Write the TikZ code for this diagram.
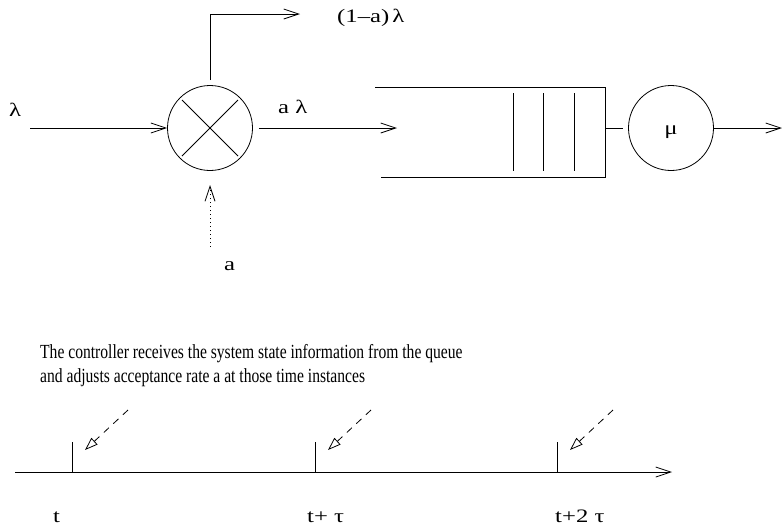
\documentclass[tikz,border=0pt]{standalone}
\usepackage{fontspec}
\setmainfont{Liberation Serif}
\newfontfamily\lblfont[FakeStretch=1.3]{Liberation Serif}
\newfontfamily\parfont[FakeStretch=0.78]{Liberation Serif}
\usetikzlibrary{arrows.meta,calc}
\tikzset{
  ln/.style={line width=0.8pt},
  barb/.style={line width=0.8pt,-{Straight Barb[length=15pt,width=10pt,line width=0.8pt]}},
  opentri/.style={line width=0.8pt,dash pattern=on 7pt off 6pt,-{Triangle[open,length=13pt,width=9pt,line width=0.8pt]}},
  lbl/.style={inner sep=0pt,font=\lblfont\fontsize{19}{22}\selectfont},
  partext/.style={inner sep=0pt,anchor=base west,font=\parfont\fontsize{20}{24}\selectfont},
  bigc/.style={circle,draw,line width=0.8pt,minimum size=85pt,inner sep=0pt},
}
\begin{document}
\begin{tikzpicture}[x=1pt,y=-1pt]
\useasboundingbox (0,0) rectangle (782,531);
% mixer
\node[bigc] (mix) at (210,128) {};
\draw[ln] ($(mix.center)+(-28,28)$) -- ($(mix.center)+(28,-28)$);
\draw[ln] ($(mix.center)+(-28,-28)$) -- ($(mix.center)+(28,28)$);
% input
\coordinate (inp) at (30,128);
\draw[barb] (inp) -- (mix.west);
\node[lbl,anchor=base west] (lam) at (9,116) {λ};
% output to queue
\coordinate (qin) at (397,128);
\draw[barb,shorten <=6pt] (mix.east) -- (qin);
\node[lbl,anchor=base west] (alam) at (278,113) {a λ};
% top branch
\coordinate (topend) at (300,14);
\draw[barb,shorten <=5pt] (mix.north) |- (topend);
\node[lbl,anchor=base west] (rej) at (337,22) {(1–a)\,λ};
% control input (dotted)
\coordinate (ctl) at (210,247);
\coordinate (ctltip) at (210,185);
\draw[barb,dash pattern=on 1pt off 3pt] (ctl) -- (ctltip);
\node[lbl,anchor=base west] (alab) at (224,270) {a};
% queue
\coordinate (qtl) at (375,87);
\coordinate (qbl) at (381,177);
\coordinate (qr) at (605,128);
\draw[ln] (qtl) -- (605,87) -- (605,177) -- (qbl);
\foreach \x in {513,543,574} \draw[ln] (\x,93) -- (\x,171);
% server
\node[bigc] (srv) at (671,128) {};
\node[lbl,anchor=base] (mu) at (671,134) {μ};
\draw[ln] (qr) -- (623,128);
\coordinate (out) at (782,128);
\draw[barb] (srv.east) -- (out);
% text
\node[partext] (txt1) at (40,358) {The controller receives the system state information from the queue};
\node[partext] (txt2) at (40,382) {and adjusts acceptance rate a at those time instances};
% timeline
\coordinate (ts) at (15,472);
\coordinate (te) at (672,472);
\draw[barb] (ts) -- (te);
\foreach \x/\n in {72/t0,315/t1,557/t2} {
  \draw[ln] (\x,442) -- (\x,472);
  \draw[opentri] (\x+56,410) -- (\x+13,450);
}
\node[lbl,anchor=base west] (l0) at (53,522) {t};
\node[lbl,anchor=base west] (l1) at (307,522) {t+ τ};
\node[lbl,anchor=base west] (l2) at (555,522) {t+2 τ};
\end{tikzpicture}
\end{document}
